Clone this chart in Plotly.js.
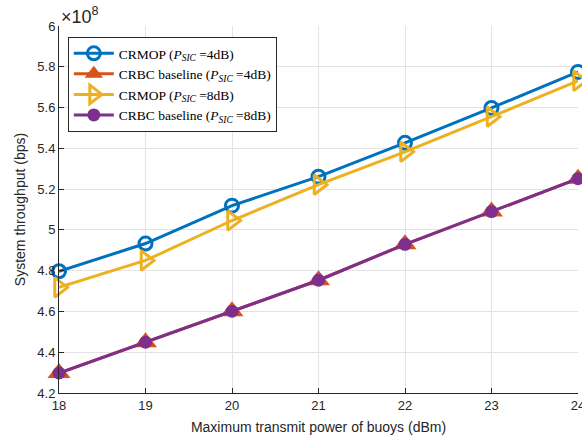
<!DOCTYPE html>
<html><head><meta charset="utf-8">
<script src="https://cdn.plot.ly/plotly-3.0.1.min.js"></script>
<style>body{margin:0;padding:0;background:#fff}#chart{width:582px;height:440px}</style>
</head><body><div id="chart"></div>
<script>
const power = [18, 19, 20, 21, 22, 23, 24];
const crmop4 = [4.797, 4.933, 5.119, 5.261, 5.427, 5.598, 5.775];
const crbc4 = [4.298, 4.449, 4.601, 4.753, 4.929, 5.090, 5.251];
const crmop8 = [4.718, 4.850, 5.046, 5.222, 5.383, 5.555, 5.731];
const crbc8 = [4.298, 4.449, 4.601, 4.753, 4.929, 5.090, 5.251];
const yTickVals = [4.2, 4.4, 4.6, 4.8, 5, 5.2, 5.4, 5.6, 5.8, 6];
const yTickText = ['4.2', '4.4', '4.6', '4.8', '5', '5.2', '5.4', '5.6', '5.8', '6'];
const names = [
  'CRMOP (<i>P</i><sub><i>SIC</i></sub> =4dB)',
  'CRBC baseline (<i>P</i><sub><i>SIC</i></sub> =4dB)',
  'CRMOP (<i>P</i><sub><i>SIC</i></sub> =8dB)',
  'CRBC baseline (<i>P</i><sub><i>SIC</i></sub> =8dB)'
];
const traces = [
  {x: power, y: crmop4, name: names[0], mode: 'lines+markers', cliponaxis: false,
   line: {color: '#0072BD', width: 3},
   marker: {symbol: 'circle-open', size: 13, color: '#0072BD', line: {width: 3, color: '#0072BD'}}},
  {x: power, y: crbc4, name: names[1], mode: 'lines+markers', cliponaxis: false,
   line: {color: '#D95319', width: 3},
   marker: {symbol: 'triangle-up', size: 20, color: '#D95319'}},
  {x: power, y: crmop8, name: names[2], mode: 'lines+markers', cliponaxis: false,
   line: {color: '#EDB120', width: 3},
   marker: {symbol: 'triangle-right-open', size: 17, color: '#EDB120', line: {width: 3, color: '#EDB120'}}},
  {x: power, y: crbc8, name: names[3], mode: 'lines+markers', cliponaxis: false,
   line: {color: '#7E2F8E', width: 3},
   marker: {symbol: 'circle', size: 13, color: '#7E2F8E'}}
];
const layout = {
  width: 582, height: 440,
  margin: {l: 59, r: 4, t: 26, b: 47},
  paper_bgcolor: '#fff', plot_bgcolor: '#fff',
  font: {family: 'Liberation Sans, Arial, sans-serif', color: '#262626', size: 13},
  xaxis: {range: [18, 24], tickvals: power, showgrid: true, gridcolor: '#e3e3e3', gridwidth: 1,
    zeroline: false, showline: true, linecolor: '#262626', linewidth: 1, ticks: 'inside', ticklen: 5,
    tickcolor: '#262626', tickfont: {size: 13}, ticklabeloverflow: 'allow',
    title: {text: 'Maximum transmit power of buoys (dBm)', font: {size: 14}, standoff: 10}},
  yaxis: {range: [4.2, 6], tickvals: yTickVals, ticktext: yTickText, showgrid: true, gridcolor: '#e3e3e3',
    zeroline: false, showline: true, linecolor: '#262626', linewidth: 1, ticks: 'inside', ticklen: 5,
    tickcolor: '#262626', tickfont: {size: 13},
    title: {text: 'System throughput (bps)', font: {size: 14}, standoff: 8}},
  legend: {x: 0.017, y: 0.97, xanchor: 'left', yanchor: 'top', bgcolor: '#fff',
    bordercolor: '#262626', borderwidth: 1, font: {family: 'Liberation Serif, DejaVu Serif, serif', size: 13.5, color: '#000'},
    tracegroupgap: 0, itemwidth: 40},
  annotations: [{xref: 'paper', yref: 'paper', x: 0, y: 1, xanchor: 'left', yanchor: 'bottom',
    text: '×10<sup>8</sup>', showarrow: false, font: {size: 18, color: '#262626'}, yshift: -3}]
};
Plotly.newPlot('chart', traces, layout, {displayModeBar: false, staticPlot: true});
</script></body></html>
